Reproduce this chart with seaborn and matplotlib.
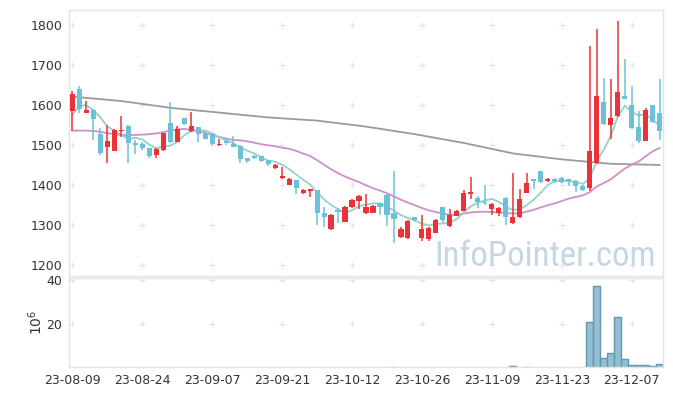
import numpy as np
import pandas as pd
import seaborn as sns
import matplotlib
matplotlib.use('Agg')
import matplotlib.pyplot as plt
from matplotlib import font_manager

# daily candles, 23-08-09 .. 23-12-13 (trading days)
opens = [1586, 1640, 1581, 1587, 1527, 1496, 1486, 1534, 1547, 1506,
         1502, 1492, 1474, 1488, 1554, 1508, 1567, 1536, 1544, 1531,
         1527, 1499, 1510, 1502, 1497, 1467, 1472, 1472, 1462, 1442,
         1418, 1400, 1412, 1379, 1386, 1387, 1329, 1289, 1337, 1308,
         1344, 1361, 1329, 1331, 1354, 1375, 1329, 1269, 1267, 1319,
         1267, 1264, 1281, 1344, 1297, 1323, 1336, 1378, 1367, 1358,
         1339, 1329, 1367, 1304, 1319, 1381, 1414, 1434, 1411, 1414,
         1417, 1415, 1411, 1397, 1393, 1454, 1607, 1550, 1573, 1622,
         1600, 1544, 1511, 1600, 1579]
highs = [1635, 1648, 1611, 1590, 1543, 1550, 1540, 1572, 1551, 1512,
         1508, 1493, 1492, 1531, 1608, 1548, 1568, 1583, 1545, 1534,
         1530, 1514, 1517, 1522, 1499, 1468, 1474, 1473, 1463, 1452,
         1444, 1418, 1413, 1391, 1390, 1388, 1344, 1327, 1342, 1347,
         1366, 1374, 1378, 1349, 1356, 1377, 1436, 1294, 1313, 1321,
         1325, 1294, 1314, 1346, 1339, 1337, 1387, 1419, 1372, 1400,
         1354, 1346, 1369, 1431, 1389, 1429, 1416, 1436, 1417, 1417,
         1419, 1416, 1413, 1399, 1747, 1790, 1667, 1664, 1810, 1714,
         1648, 1585, 1593, 1601, 1664]
lows = [1536, 1580, 1580, 1512, 1475, 1456, 1484, 1521, 1454, 1477,
        1488, 1467, 1467, 1486, 1505, 1507, 1551, 1533, 1508, 1514,
        1500, 1498, 1500, 1495, 1454, 1455, 1464, 1458, 1447, 1440,
        1414, 1399, 1377, 1378, 1369, 1300, 1296, 1288, 1306, 1307,
        1343, 1339, 1328, 1330, 1325, 1297, 1256, 1267, 1265, 1311,
        1261, 1261, 1280, 1306, 1296, 1322, 1334, 1365, 1342, 1350,
        1325, 1322, 1300, 1302, 1317, 1379, 1389, 1406, 1408, 1405,
        1405, 1398, 1383, 1385, 1385, 1452, 1549, 1515, 1571, 1614,
        1541, 1506, 1510, 1556, 1512]
closes = [1627, 1590, 1587, 1565, 1481, 1510, 1537, 1537, 1504, 1501,
          1492, 1473, 1489, 1529, 1508, 1539, 1553, 1547, 1528, 1516,
          1503, 1503, 1506, 1496, 1465, 1460, 1468, 1461, 1452, 1450,
          1422, 1415, 1393, 1387, 1389, 1329, 1321, 1325, 1333, 1344,
          1362, 1372, 1344, 1347, 1346, 1325, 1316, 1289, 1311, 1313,
          1289, 1292, 1312, 1312, 1325, 1335, 1379, 1383, 1358, 1354,
          1352, 1342, 1321, 1319, 1364, 1404, 1411, 1408, 1414, 1410,
          1408, 1410, 1397, 1388, 1485, 1622, 1553, 1568, 1632, 1616,
          1543, 1510, 1587, 1558, 1536]
# volume in millions of shares
volumes = [0.4, 0.3, 0.3, 0.3, 0.4, 0.4, 0.3, 0.4, 0.4, 0.2,
           0.2, 0.2, 0.2, 0.3, 0.4, 0.3, 0.2, 0.3, 0.2, 0.2,
           0.2, 0.2, 0.2, 0.2, 0.3, 0.2, 0.2, 0.2, 0.2, 0.2,
           0.3, 0.2, 0.3, 0.2, 0.2, 0.5, 0.4, 0.3, 0.2, 0.3,
           0.3, 0.3, 0.3, 0.2, 0.2, 0.4, 0.7, 0.3, 0.3, 0.2,
           0.4, 0.3, 0.3, 0.3, 0.3, 0.2, 0.4, 0.5, 0.3, 0.4,
           0.3, 0.2, 0.4, 1.35, 0.5, 0.6, 0.3, 0.4, 0.2, 0.2,
           0.2, 0.2, 0.3, 0.3, 20.9, 37.2, 4.8, 7.1, 23.2, 4.4,
           1.65, 1.65, 1.65, 1.2, 2.1]

# moving averages: first values need days before the window
ma5_head = [1575, 1597, 1600, 1587]
ma20_head = [1536, 1536, 1536, 1535, 1533, 1530, 1527, 1525, 1525, 1525,
             1526, 1527, 1529, 1532, 1536, 1539, 1540, 1538, 1535]
ma_long_day = [0, 7, 14, 21, 28, 35, 42, 49, 56, 63, 70, 77, 84]
ma_long_val = [1621, 1610, 1593, 1581, 1569, 1561, 1546, 1527, 1505, 1479, 1464, 1453, 1450]

tick_labels = ['23-08-09', '23-08-24', '23-09-07', '23-09-21', '23-10-12',
               '23-10-26', '23-11-09', '23-11-23', '23-12-07']

df = pd.DataFrame({'open': opens, 'high': highs, 'low': lows,
                   'close': closes, 'volume': volumes})
df['day'] = np.arange(len(df))
ma5 = df['close'].rolling(5).mean()
ma5.iloc[:len(ma5_head)] = ma5_head
ma20 = df['close'].rolling(20).mean()
ma20.iloc[:len(ma20_head)] = ma20_head
df['ma5'] = ma5
df['ma20'] = ma20

sns.set_theme(style='white')
plt.rcParams['font.family'] = ['DejaVu Sans']

# narrow face for the watermark if there is one
names = {f.name for f in font_manager.fontManager.ttflist}
wm_font, wm_size = 'DejaVu Sans', 21
for nm in ('Liberation Sans Narrow', 'Roboto Condensed', 'Open Sans Condensed',
           'DejaVu Sans Condensed'):
    if nm in names:
        wm_font, wm_size = nm, (25 if 'Narrow' in nm or 'Roboto' in nm else 22)
        break

up_col = '#ec3238'
down_col = '#6cc1d9'
edge = '#e4e4e4'

fig = plt.figure(figsize=(6.73, 3.96), dpi=100)
W, H = 673, 396
ax = fig.add_axes([69 / W, 1 - 276 / H, (663 - 69) / W, (276 - 10) / H])
axv = fig.add_axes([69 / W, 1 - 367 / H, (663 - 69) / W, (367 - 277.5) / H], sharex=ax)

# grid crosses
xt = np.arange(0, len(df), 10)
for a, yt in ((ax, np.arange(1200, 1801, 100)), (axv, [20, 40])):
    gx, gy = np.meshgrid(xt, yt)
    a.plot(gx.ravel(), gy.ravel(), ls='none', marker='+', ms=5, mew=0.8,
           color='#e3e3e3', zorder=0)

# moving averages
sns.lineplot(x=ma_long_day, y=ma_long_val, ax=ax, color='#9b9b9b', lw=1.3, zorder=2)
sns.lineplot(data=df, x='day', y='ma20', ax=ax, color='#cf8fca', lw=1.3, zorder=2)
sns.lineplot(data=df, x='day', y='ma5', ax=ax, color='#93d2c5', lw=1.3, zorder=2)

# candles
cols = [up_col if c >= o else down_col for o, c in zip(df['open'], df['close'])]
ax.vlines(df['day'], df['low'], df['high'], colors=cols, lw=1.1, zorder=3)
body = (df['close'] - df['open']).abs().clip(lower=1.5)
ax.bar(df['day'], body, bottom=df[['open', 'close']].min(axis=1), width=0.72,
       color=cols, linewidth=0, zorder=4)

ax.text(0.988, 0.072, 'InfoPointer.com', transform=ax.transAxes, ha='right',
        va='center', fontsize=wm_size, family=wm_font, color='#c4d7e3', zorder=1)

# volume
sns.barplot(data=df, x='day', y='volume', ax=axv, native_scale=True, width=1.0,
            color='#94bed1', edgecolor='#5f98b1', linewidth=1, errorbar=None,
            saturation=1, zorder=2)

ax.set_xlim(-0.45, 84.45)
ax.set_ylim(1172.5, 1837.5)
ax.set_yticks(np.arange(1200, 1801, 100))
axv.set_ylim(0.77, 41.1)
axv.set_yticks([20, 40])
axv.set_xticks(xt)
axv.set_xticklabels(tick_labels)
ax.tick_params(labelbottom=False)

for a in (ax, axv):
    a.set_xlabel('')
    a.set_ylabel('')
    a.tick_params(length=0, labelsize=9, colors='#333333', pad=5)
    for s in a.spines.values():
        s.set_color(edge)
        s.set_linewidth(1)
axv.set_ylabel(r'$10^6$', fontsize=10, color='#333333', labelpad=1)

fig.savefig('out.png', dpi=100, facecolor='white')
